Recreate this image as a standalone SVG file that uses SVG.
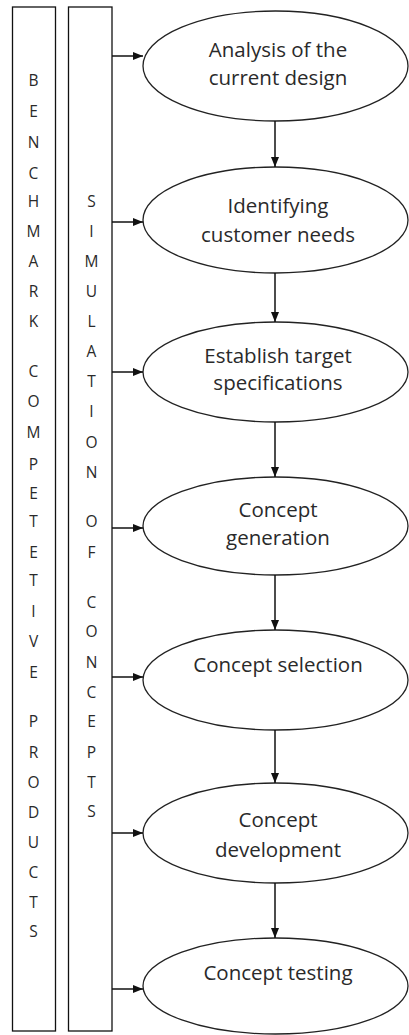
<svg xmlns="http://www.w3.org/2000/svg" width="409" height="1035" viewBox="0 0 409 1035">
<defs>
<marker id="ah" markerWidth="10" markerHeight="8" refX="10" refY="4" orient="auto" markerUnits="userSpaceOnUse">
<path d="M0,0 L10,4 L0,8 Z" fill="#111"/>
</marker>
<style>
.box{fill:#fff;stroke:#111;stroke-width:1.3}
.ell{fill:#fff;stroke:#222;stroke-width:1.3}
.con{stroke:#111;stroke-width:1.5;fill:none;marker-end:url(#ah)}
.lbl{font-family:"Open Sans",Lato,sans-serif;font-size:20.5px;fill:#2a2a2a;text-anchor:middle}
.ltr{font-family:"Open Sans",Lato,sans-serif;font-size:15.5px;fill:#2a2a2a;text-anchor:middle}
</style>
</defs>
<rect width="409" height="1035" fill="#fff"/>
<g id="benchmark">
<rect class="box" x="12.5" y="7" width="43" height="1024"/>
<g class="ltr">
<text x="33.5" y="86">B</text><text x="33.5" y="117">E</text><text x="33.5" y="148">N</text><text x="33.5" y="179">C</text><text x="33.5" y="207">H</text><text x="33.5" y="237">M</text><text x="33.5" y="267">A</text><text x="33.5" y="297">R</text><text x="33.5" y="327">K</text>
<text x="33.5" y="377">C</text><text x="33.5" y="407">O</text><text x="33.5" y="438">M</text><text x="33.5" y="470">P</text><text x="33.5" y="499">E</text><text x="33.5" y="527">T</text><text x="33.5" y="558">E</text><text x="33.5" y="586">T</text><text x="33.5" y="617">I</text><text x="33.5" y="647">V</text><text x="33.5" y="678">E</text>
<text x="33.5" y="727">P</text><text x="33.5" y="758">R</text><text x="33.5" y="788">O</text><text x="33.5" y="818">D</text><text x="33.5" y="848">U</text><text x="33.5" y="878">C</text><text x="33.5" y="908">T</text><text x="33.5" y="937">S</text>
</g>
</g>
<g id="simulation">
<rect class="box" x="68.5" y="7" width="43.5" height="1024"/>
<g class="ltr">
<text x="91.5" y="207">S</text><text x="91.5" y="237">I</text><text x="91.5" y="267">M</text><text x="91.5" y="297">U</text><text x="91.5" y="327">L</text><text x="91.5" y="357">A</text><text x="91.5" y="387">T</text><text x="91.5" y="417">I</text><text x="91.5" y="448">O</text><text x="91.5" y="478">N</text>
<text x="91.5" y="527">O</text><text x="91.5" y="558">F</text>
<text x="91.5" y="608">C</text><text x="91.5" y="637">O</text><text x="91.5" y="668">N</text><text x="91.5" y="698">C</text><text x="91.5" y="727">E</text><text x="91.5" y="758">P</text><text x="91.5" y="788">T</text><text x="91.5" y="817">S</text>
</g>
</g>
<g id="n1"><ellipse class="ell" cx="275.5" cy="66" rx="132.5" ry="55"/><text class="lbl" x="278" y="57">Analysis of the</text><text class="lbl" x="278" y="85">current design</text></g>
<g id="n2"><ellipse class="ell" cx="275.5" cy="220" rx="132.5" ry="53"/><text class="lbl" x="278" y="213">Identifying</text><text class="lbl" x="278" y="242">customer needs</text></g>
<g id="n3"><ellipse class="ell" cx="275.5" cy="372" rx="132.5" ry="50"/><text class="lbl" x="278" y="363">Establish target</text><text class="lbl" x="278" y="390">specifications</text></g>
<g id="n4"><ellipse class="ell" cx="275.5" cy="526" rx="132.5" ry="49"/><text class="lbl" x="278" y="517">Concept</text><text class="lbl" x="278" y="545">generation</text></g>
<g id="n5"><ellipse class="ell" cx="275.5" cy="680" rx="132.5" ry="50"/><text class="lbl" x="278" y="672">Concept selection</text></g>
<g id="n6"><ellipse class="ell" cx="275.5" cy="833" rx="132.5" ry="50"/><text class="lbl" x="278" y="827">Concept</text><text class="lbl" x="278" y="857">development</text></g>
<g id="n7"><ellipse class="ell" cx="275.5" cy="986" rx="132.5" ry="48"/><text class="lbl" x="278" y="980">Concept testing</text></g>
<g id="connectors">
<line class="con" x1="275" y1="121" x2="275" y2="167"/>
<line class="con" x1="275" y1="273" x2="275" y2="322"/>
<line class="con" x1="275" y1="422" x2="275" y2="477"/>
<line class="con" x1="275" y1="575" x2="275" y2="630"/>
<line class="con" x1="275" y1="730" x2="275" y2="783"/>
<line class="con" x1="275" y1="883" x2="275" y2="938"/>
<line class="con" x1="112" y1="56" x2="143" y2="56"/>
<line class="con" x1="112" y1="222" x2="143" y2="222"/>
<line class="con" x1="112" y1="372" x2="143" y2="372"/>
<line class="con" x1="112" y1="528" x2="143" y2="528"/>
<line class="con" x1="112" y1="677" x2="143" y2="677"/>
<line class="con" x1="112" y1="833" x2="143" y2="833"/>
<line class="con" x1="112" y1="989" x2="143" y2="989"/>
</g>
</svg>
